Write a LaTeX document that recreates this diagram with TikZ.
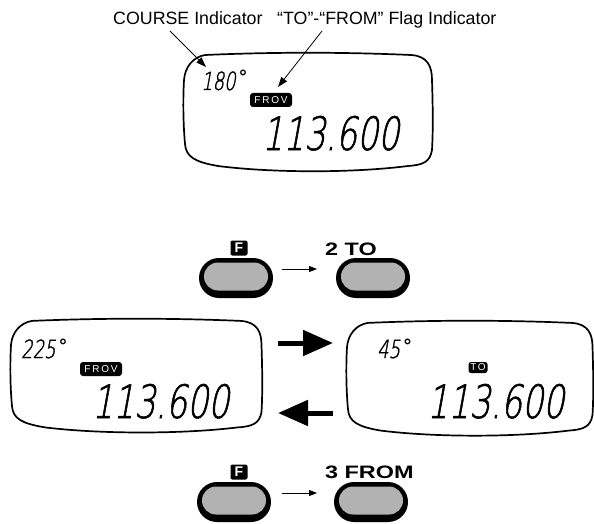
\documentclass[tikz,border=0pt]{standalone}
\usepackage{fontspec}
\setmainfont{Liberation Sans}
\newfontfamily\lcdfont{DejaVuSans-ExtraLight}[Extension=.ttf, FakeSlant=0.18, FakeStretch=0.72, FakeBold=1.2]
\newfontfamily\degfont{DejaVu Sans}
\newfontfamily\btnfont{Liberation Sans}[FakeStretch=1.3]
\newfontfamily\flagfont{Liberation Sans}[LetterSpace=18]
\usetikzlibrary{arrows.meta,shapes.misc}
\newcommand\dg{\kern3pt\raisebox{6pt}{\degfont\bfseries\fontsize{18}{18}\selectfont °}}
\tikzset{
  lcd/.pic={
    \draw[lcdline] (22,3) .. controls (90,0) and (160,0) .. (228,3)
      .. controls (245,4) and (249,15) .. (249,28)
      .. controls (250,60) and (250,80) .. (249,98)
      .. controls (247,110) and (240,113) .. (225,114)
      .. controls (170,121) and (90,121) .. (35,114)
      .. controls (12,110) and (3,105) .. (2,92)
      .. controls (0,70) and (0,45) .. (1,28)
      .. controls (2,15) and (10,5) .. (22,3) -- cycle;
  }
}
\begin{document}
\begin{tikzpicture}[x=1pt,y=-1pt,
  lcdline/.style={line width=1.7pt, line join=round},
  lcdS/.style={anchor=base west, inner sep=0, font=\lcdfont\fontsize{25}{25}\selectfont},
  lcdL/.style={anchor=base west, inner sep=0, font=\lcdfont\fontsize{46}{46}\selectfont},
  flagbox/.style={fill=black, text=white, rounded corners=3pt, inner sep=0, minimum width=42pt, minimum height=14pt, font=\flagfont\fontsize{10}{10}\selectfont},
  lbl/.style={anchor=base west, inner sep=0, font=\fontsize{17.8}{18}\selectfont},
  leader/.style={line width=0.8pt, -{Triangle[length=10pt,width=7pt]}},
  bigarrow/.style={line width=5pt, -{Triangle[length=30pt,width=25pt]}},
  smallarrow/.style={line width=0.9pt, -{Triangle[length=8pt,width=6pt]}},
  btnout/.style={rounded rectangle, fill=black, minimum width=74pt, minimum height=40pt, inner sep=0},
  btnin/.style={rounded rectangle, fill=black!30, minimum width=64pt, minimum height=28pt, inner sep=0},
  fkey/.style={fill=black, text=white, rounded corners=2pt, minimum width=17pt, minimum height=15pt, inner sep=0, font=\bfseries\fontsize{14}{14}\selectfont},
  btnlbl/.style={anchor=base west, inner sep=0, font=\btnfont\bfseries\fontsize{18}{18}\selectfont},
]
\useasboundingbox (0,0) rectangle (594,524);

% top labels
\node[lbl] (lc) at (113,25) {COURSE Indicator};
\node[lbl] (lf) at (277,25) {“TO”-“FROM” Flag Indicator};
\coordinate (lcS) at (170,31);
\coordinate (lcE) at (206,67);
\coordinate (lfS) at (322,31);
\coordinate (lfE) at (278,87);

% top LCD
\pic at (183,52) {lcd};
\node[lcdS] (c1) at (201,90) {180\dg};
\node[flagbox] (f1) at (271,100) {FROV};
\node[lcdL] (n1) at (262,150) {113.600};
\draw[leader] (lcS) -- (lcE);
\draw[leader] (lfS) -- (lfE);

% top buttons
\node[fkey] (tf) at (239,248) {F};
\node[btnlbl] (t2) at (325,255) {2 TO};
\node[btnout] (tb1) at (236,278) {};
\node[btnin] (tb1i) at (236,276.5) {};
\node[btnout] (tb2) at (373,278) {};
\node[btnin] (tb2i) at (373,276.5) {};
\coordinate (ts1) at (282,269);
\coordinate (ts2) at (317,269);
\draw[smallarrow] (ts1) -- (ts2);

% left LCD
\pic[xscale=1.01, yscale=0.96] at (10,318) {lcd};
\node[lcdS] (c2) at (21,358) {225\dg};
\node[flagbox] (f2) at (101,369) {FROV};
\node[lcdL] (n2) at (92,418) {113.600};

% right LCD
\pic[xscale=0.99, yscale=0.97] at (346,320) {lcd};
\node[lcdS] (c3) at (377,358) {45\dg};
\node[flagbox, minimum width=19pt, minimum height=11pt, rounded corners=2.5pt] (f3) at (478,367.5) {TO};
\node[lcdL] (n3) at (427,418) {113.600};

% big arrows
\coordinate (ra1) at (278,343);
\coordinate (ra2) at (333,343);
\coordinate (la1) at (333,413);
\coordinate (la2) at (278,413);
\draw[bigarrow] (ra1) -- (ra2);
\draw[bigarrow] (la1) -- (la2);

% bottom buttons
\node[fkey] (bf) at (239,472) {F};
\node[btnlbl] (b3) at (325,478) {3 FROM};
\node[btnout] (bb1) at (234,502) {};
\node[btnin] (bb1i) at (234,500.5) {};
\node[btnout] (bb2) at (371,502) {};
\node[btnin] (bb2i) at (371,500.5) {};
\coordinate (bs1) at (282,493);
\coordinate (bs2) at (317,493);
\draw[smallarrow] (bs1) -- (bs2);
\end{tikzpicture}
\end{document}
